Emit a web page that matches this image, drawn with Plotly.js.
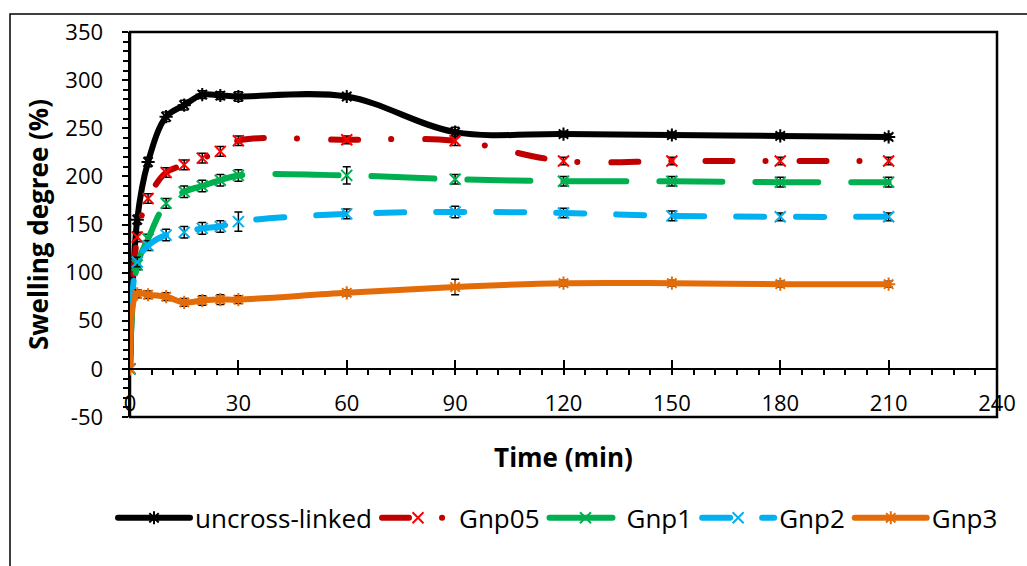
<!DOCTYPE html>
<html><head><meta charset="utf-8">
<script src="https://cdn.plot.ly/plotly-3.0.1.min.js"></script>
<style>
html,body{margin:0;padding:0;background:#fff;}
#chart{width:1027px;height:566px;}
path.js-line{stroke-linecap:round;}
</style></head><body>
<div id="chart"></div>
<script>
// Time points (min)
const time = [0, 2, 5, 10, 15, 20, 25, 30, 60, 90, 120, 150, 180, 210];
// Swelling degree (%) per series
const uncrossLinked = [0, 155, 215, 262, 274, 285, 284, 283, 283, 246, 244, 243, 242, 241];
const gnp05 = [0, 137, 177, 204, 212, 219, 226, 237, 238, 237, 216, 216, 216, 216];
const gnp1  = [0, 108, 135, 172, 184, 190, 196, 201, 201, 197, 195, 195, 194, 194];
const gnp2  = [0, 111, 128, 139, 142, 146, 148, 153, 161, 163, 162, 159, 158, 158];
const gnp3  = [0, 78, 77, 75, 69, 71, 72, 72, 79, 85, 89, 89, 88, 88];
// Error bars (±)
const errUncross = [0, 5, 5, 5, 5, 4, 4, 5, 3, 5, 3, 3, 3, 3];
const errGnp05   = [0, 5, 5, 5, 5, 5, 5, 5, 4, 5, 4, 4, 4, 4];
const errGnp1    = [0, 5, 5, 5, 6, 6, 6, 6, 9, 5, 5, 5, 5, 5];
const errGnp2    = [0, 5, 5, 6, 6, 6, 6, 10, 5, 6, 5, 5, 4, 4];
const errGnp3    = [0, 4, 4, 4, 4, 5, 5, 4, 3, 8, 3, 3, 3, 3];
// Series names and tick labels
const seriesNames = ['uncross-linked', 'Gnp05', 'Gnp1', 'Gnp2', 'Gnp3'];
const xTicks = [0, 30, 60, 90, 120, 150, 180, 210, 240];
const yTicks = [-50, 0, 50, 100, 150, 200, 250, 300, 350];
const yTickLabels = ['-50', '0', '50', '100', '150', '200', '250', '300', '350'];

const FONT = '"Open Sans", Lato, sans-serif';

function mk(name, y, err, lineColor, dash, symbol, markerColor) {
  return {
    type: 'scatter', mode: 'lines+markers', name: name,
    x: time, y: y,
    line: {color: lineColor, width: 6, shape: 'spline', smoothing: 1, dash: dash},
    marker: {symbol: symbol, size: 11, color: markerColor, line: {color: markerColor, width: 2}},
    error_y: {type: 'data', array: err, visible: true, color: '#000', thickness: 1.5, width: 4},
    hoverinfo: 'x+y'
  };
}

const traces = [
  mk(seriesNames[0], uncrossLinked, errUncross, '#000000', 'solid', 'asterisk-open', '#000000'),
  mk(seriesNames[1], gnp05, errGnp05, '#C00000', '27px,33px,0.1px,34px', 'x-thin-open', '#FF0000'),
  mk(seriesNames[2], gnp1, errGnp1, '#00B050', '63px,33px', 'x-thin-open', '#00B050'),
  mk(seriesNames[3], gnp2, errGnp2, '#00B0F0', '28px,32px', 'x-thin-open', '#00B0F0'),
  mk(seriesNames[4], gnp3, errGnp3, '#E36C09', 'solid', 'asterisk-open', '#E36C09')
];

const tickFont = {family: FONT, size: 22, color: '#000'};
const titleFont = {family: FONT, size: 26, color: '#000', weight: 'bold'};

const layout = {
  width: 1027, height: 566,
  margin: {l: 130, r: 30, t: 32, b: 149},
  paper_bgcolor: '#fff', plot_bgcolor: '#fff',
  showlegend: true,
  legend: {
    orientation: 'h', x: -0.0196, xanchor: 'left', y: -0.262, yanchor: 'middle',
    font: {family: FONT, size: 26, color: '#000'}, itemwidth: 72,
    bgcolor: 'rgba(0,0,0,0)', traceorder: 'normal'
  },
  xaxis: {
    range: [0, 240], tickvals: xTicks, anchor: 'free', position: 0.125,
    showline: true, linecolor: '#000', linewidth: 2.5,
    ticks: 'inside', ticklen: 8, tickwidth: 2, tickcolor: '#000',
    minor: {dtick: 6, ticks: 'outside', ticklen: 5, tickwidth: 2, tickcolor: '#000'},
    ticklabelstandoff: 14, tickfont: tickFont,
    showgrid: false, zeroline: false,
    title: {text: 'Time (min)', font: titleFont, standoff: 32}
  },
  yaxis: {
    range: [-50, 350], tickvals: yTicks, ticktext: yTickLabels,
    ticks: 'outside', ticklen: 6, tickwidth: 2, tickcolor: '#000',
    minor: {dtick: 10, ticks: 'outside', ticklen: 5, tickwidth: 2, tickcolor: '#000'},
    showline: true, linecolor: '#000', linewidth: 2.5,
    showgrid: false, zeroline: false, tickfont: tickFont, ticklabelstandoff: 14,
    title: {text: 'Swelling degree (%)', font: titleFont, standoff: 9}
  },
  shapes: [
    {
      type: 'rect', xref: 'paper', yref: 'paper', x0: 0, x1: 1, y0: 0, y1: 1,
      line: {color: '#000', width: 2.5}, fillcolor: 'rgba(0,0,0,0)', layer: 'below'
    },
    {
      type: 'rect', xref: 'paper', yref: 'paper',
      x0: -0.1384, x1: 1.3, y0: -1, y1: 1.0468,
      line: {color: '#000', width: 1.5}, fillcolor: 'rgba(0,0,0,0)', layer: 'below'
    }
  ]
};

Plotly.newPlot('chart', traces, layout, {displayModeBar: false, staticPlot: true});
</script>
</body></html>
